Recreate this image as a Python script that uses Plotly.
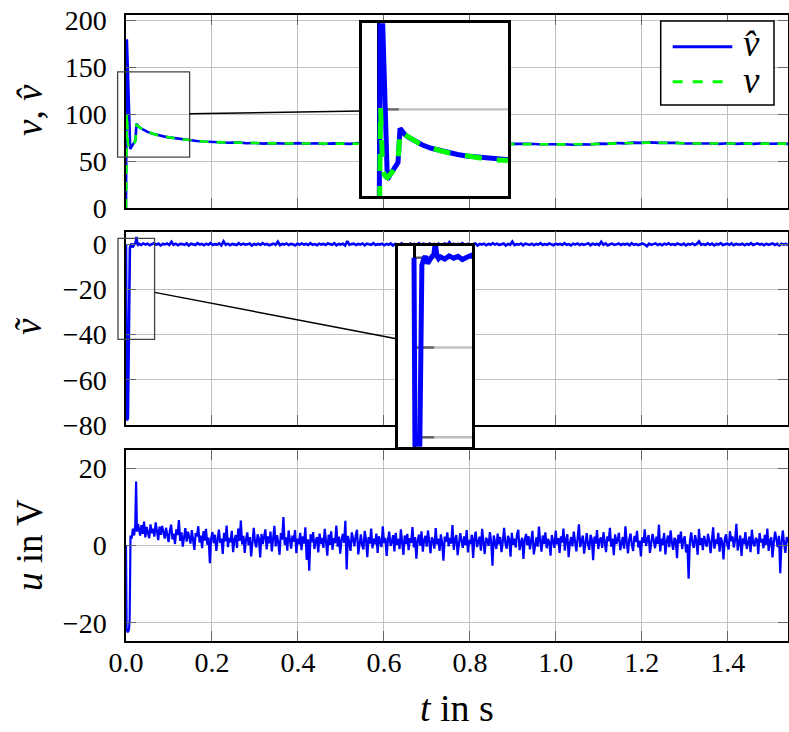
import numpy as np
import plotly.graph_objects as go

# ---------------- data ----------------
# top panel: estimate v_hat and true v
t_top = [0.0, 0.002, 0.0045, 0.007, 0.0098, 0.013, 0.016, 0.019, 0.022, 0.0243,
         0.026, 0.03, 0.035, 0.04, 0.045, 0.05, 0.06, 0.07, 0.08, 0.09,
         0.1, 0.11, 0.12, 0.13, 0.14, 0.15, 0.165, 0.18, 0.2,
         0.22, 0.24, 0.26, 0.28, 0.30, 0.32, 0.34, 0.36, 0.38, 0.40,
         0.42, 0.44, 0.46, 0.48, 0.50, 0.52, 0.54, 0.56, 0.58, 0.60,
         0.62, 0.64, 0.66, 0.68, 0.70, 0.72, 0.74, 0.76, 0.78, 0.80,
         0.82, 0.84, 0.86, 0.88, 0.90, 0.92, 0.94, 0.96, 0.98, 1.00,
         1.02, 1.04, 1.06, 1.08, 1.10, 1.12, 1.14, 1.16, 1.18, 1.20,
         1.22, 1.24, 1.26, 1.28, 1.30, 1.32, 1.34, 1.36, 1.38, 1.40,
         1.42, 1.44, 1.46, 1.48, 1.50, 1.52, 1.54]
v_hat = [0, 180, 145, 110, 63, 65.5, 67.5, 69.5, 72, 90,
         88.6, 86.6, 85.0, 83.6, 82.3, 81.2, 79.5, 78.2, 77.1, 76.2,
         75.4, 74.7, 74.0, 73.4, 72.8, 72.3, 71.6, 71.0, 70.4,
         70.4, 69.6, 70.0, 69.1, 69.4, 68.7, 69.3, 69.0, 68.6, 69.2,
         68.6, 69.1, 68.3, 69.0, 68.8, 68.4, 69.2, 68.5, 68.9, 68.3,
         69.1, 68.6, 69.0, 68.4, 69.0, 68.6, 69.0, 68.2, 68.8, 69.0,
         68.5, 69.0, 68.5, 69.0, 68.4, 68.7, 68.6, 68.0, 68.3, 67.8,
         68.1, 67.5, 68.1, 67.8, 68.7, 68.5, 69.4, 69.0, 69.8, 69.5,
         70.1, 69.5, 69.9, 69.6, 68.9, 69.1, 68.5, 68.9, 68.5, 69.1,
         68.5, 69.0, 68.4, 69.1, 68.6, 68.9, 68.4]
v_true = [0, 101, 68, 65, 64, 65.5, 67.3, 69.3, 72.5, 88.6,
          88.4, 86.6, 85.0, 83.6, 82.3, 81.2, 79.5, 78.2, 77.1, 76.2,
          75.4, 74.7, 74.0, 73.4, 72.8, 72.3, 71.6, 71.0, 70.4,
          70.1, 69.8, 69.6, 69.4, 69.2, 69.1, 69.0, 68.9, 68.9, 68.8,
          68.8, 68.8, 68.7, 68.8, 68.7, 68.7, 68.8, 68.7, 68.7, 68.7,
          68.8, 68.7, 68.6, 68.7, 68.8, 68.8, 68.7, 68.6, 68.7, 68.7,
          68.8, 68.8, 68.7, 68.6, 68.7, 68.6, 68.5, 68.3, 68.1, 67.9,
          67.8, 67.8, 67.9, 68.1, 68.4, 68.8, 69.1, 69.3, 69.5, 69.7,
          69.8, 69.8, 69.7, 69.4, 69.1, 68.9, 68.7, 68.6, 68.7, 68.8,
          68.8, 68.7, 68.7, 68.8, 68.8, 68.7, 68.7]

# middle panel: estimation error
t_err_start = [0.0, 0.002, 0.0045, 0.007, 0.009, 0.011, 0.013, 0.0155, 0.018,
               0.0205, 0.0225, 0.0243, 0.026, 0.028]
err_start = [0, -78, -77, -40, -1.6, -0.3, 0.3, -1.3, -0.2, 0.3, 0.6, 3.3, 0.5, -0.2]
err_noise = [
    0.2, -0.3, 0.4, -0.1, 0.3, -0.4, 0.1, 0.5, -0.2, 0.3, -0.5, 0.2, 0.0, 0.4, -0.3, 1.1, -0.2, 0.3, -0.4, 0.2,
    0.1, -0.2, 0.4, -0.5, 0.3, 0.0, -0.3, 0.5, -0.1, 0.2, -0.4, 0.3, -0.2, 0.6, -0.3, 0.1, -0.1, 0.4, -0.5, 1.3,
    -0.2, 0.3, -0.4, 0.2, 0.1, -0.3, 0.5, -0.2, 0.3, -0.1, 0.0, 0.4, -0.5, 0.2, -0.2, 0.3, -0.3, 0.5, -0.1, 0.2,
    -0.4, 0.1, 0.3, -0.2, 1.2, -0.4, 0.2, -0.1, 0.4, -0.3, 0.2, 0.0, -0.5, 0.3, -0.2, 0.4, -0.1, 0.2, -0.3, 0.5,
    -0.2, 0.1, -0.4, 0.3, -0.1, 0.2, -0.3, 0.4, 0.0, -0.2, 0.5, -0.4, 0.2, -0.1, 0.3, -0.5, 1.4, -0.2, 0.1, 0.3,
    -0.3, 0.2, -0.1, 0.4, -0.4, 0.3, 0.0, -0.2, 0.5, -0.3, 0.1, -0.1, 0.3, -0.4, 0.2, -0.2, 0.4, -0.5, 0.2, 0.1,
    -0.3, 0.4, -0.2, 0.1, -0.9, 0.3, -0.1, 0.2, -0.4, 0.5, -0.2, 0.3, 0.0, -0.3, 0.4, -0.1, 0.2, -0.5, 0.3, -0.2,
    0.1, 0.4, -0.3, 1.0, -0.2, 0.3, -0.4, 0.2, -0.1, 0.5, -0.3, 0.1, 0.3, -0.2, 0.0, 0.4, -0.5, 0.2, -0.1, 0.3,
    -0.4, 0.2, -0.2, 0.5, -0.1, 0.3, -0.3, 0.1, 0.4, -0.5, 0.2, -0.2, 1.2, -0.3, 0.1, -0.1, 0.4, -0.4, 0.3, 0.0,
    -0.2, 0.3, -0.4, 0.2, -0.1, 0.5, -0.3, 0.1, -0.2, 0.4, 0.0, -0.4, 0.3, -0.1, 0.2, -0.3, 0.5, -0.2, 0.1, -0.5,
    0.3, -0.1, 0.4, -0.3, 0.2, -0.2, 0.1, 0.5, -0.4, 0.3, -0.1, 0.2, -0.3, 1.1, -0.2, 0.4, -0.5, 0.1, 0.3, -0.2,
    0.0, 0.4, -0.3, 0.2, -0.1, 0.3, -0.4, 0.5, -0.2, 0.1, -0.3, 0.2, 0.4, -0.1, -0.8, 0.3, -0.2, 0.1, 0.4, -0.3,
    0.2, -0.4, 0.3, -0.1, 0.5, -0.2, 0.1, -0.3, 0.4, 0.0, -0.2, 0.3, -0.5, 0.2, -0.1, 0.4, -0.3, 0.2, 1.3, -0.2,
    0.1, -0.3, 0.4, -0.2, 0.3, -0.5, 0.2, -0.1, 0.5, -0.3, 0.1, 0.3, -0.2, 0.4, -0.4, 0.2, 0.0, -0.1, 0.3, -0.4,
    0.2, -0.2, 0.5, -0.3, 0.1, 0.4, -0.1, 0.2, -0.4, 0.3, -0.2, 0.1, 0.4, -0.3, 0.2, -0.5, 0.3, -0.1, 0.2, -0.3]

# bottom panel: input voltage
t_u_start = [0.0, 0.0015, 0.004, 0.007, 0.0085, 0.0105, 0.013, 0.016, 0.019,
             0.0215, 0.0235, 0.0255, 0.028]
u_start = [0, -21.5, -22.5, -21.8, -19, 2.6, 1.8, 4.4, 2.6, 5.2, 16.6, 3.6, 5.6]
u_noise = [
    4.1, 2.6, 5.3, 3.0, 6.2, 2.1, 4.8, 3.6, 1.9, 5.5, 3.2, 4.4, 2.3, 6.0, 3.8, 1.4, 4.9, 2.8, 5.1, 3.3,
    1.8, 4.6, 2.5, 0.9, 3.9, 5.4, 1.6, 3.1, 0.4, 4.2, 2.7, 6.6, 1.2, 3.4, -0.3, 2.9, 4.5, 1.0, 3.6, 2.2,
    0.5, 4.0, 1.7, -1.1, 3.2, 2.4, 5.0, 0.8, 2.6, -0.7, 3.7, 1.3, 4.3, 0.2, 2.1, -4.6, 1.9, 3.5, 0.6, 2.8,
    -1.4, 2.3, 4.1, 0.7, 1.8, -2.2, 3.3, 1.1, 5.2, -0.4, 2.0, 0.9, 3.8, -1.7, 1.5, 2.7, -0.6, 4.4, 1.2, 6.5,
    0.3, 2.5, -1.9, 1.6, 3.4, 0.1, 2.2, -2.8, 1.4, 4.6, 0.8, -0.5, 2.9, 1.7, -3.1, 3.0, 0.4, 1.9, 4.2, -1.0,
    2.4, 0.6, 3.6, -1.5, 1.2, 5.1, -0.2, 2.7, 0.9, -2.4, 3.2, 1.5, 7.4, 0.2, 2.1, -1.3, 3.9, 0.7, -0.8, 2.6,
    1.0, 4.0, -2.0, 1.8, 0.3, 3.3, -1.2, 2.4, 0.5, 4.7, -3.7, 1.6, -6.5, 2.9, 0.8, 3.5, -0.9, 1.3, 2.2, -1.8,
    3.1, 0.4, 2.0, -0.6, 4.3, 1.1, -2.6, 2.8, 0.2, 3.7, -1.1, 1.9, 0.6, 5.2, -0.3, 2.3, -2.1, 1.4, 3.0, 0.7,
    6.4, -6.2, 2.5, 0.9, -1.4, 3.4, 1.2, -0.2, 2.6, 4.1, -2.3, 1.0, 2.9, 0.1, -1.0, 3.8, 1.6, -3.0, 2.2, 0.5,
    4.4, -0.7, 1.8, 0.3, 3.1, -1.9, 2.4, 1.0, -0.4, 5.0, 0.6, 2.0, -2.7, 1.5, 3.6, -0.1, 0.9, 2.7, -1.5, 3.3,
    0.2, 1.7, -0.9, 4.2, 1.1, -2.4, 2.6, 0.4, 3.0, -1.2, 1.9, 0.7, 4.8, -0.5, 2.2, -3.4, 1.3, 2.8, 0.0, 3.7,
    -1.6, 1.4, 2.5, -0.3, 3.9, 0.8, -2.0, 2.1, 1.5, -0.8, 4.5, 0.3, 1.8, -1.4, 2.9, 0.6, -3.9, 2.3, 1.0, 3.4,
    -0.2, 2.0, 0.5, 5.3, -1.1, 1.6, 2.7, -2.5, 0.9, 3.2, 1.2, -0.6, 2.4, 0.1, 4.0, -1.8, 1.5, 0.4, 2.8, -3.2,
    1.9, 3.6, -0.4, 1.1, 2.3, -1.3, 4.3, 0.7, -2.2, 2.0, 1.4, -0.1, 3.5, 0.9, -5.2, 2.6, 1.2, -0.9, 3.1, 0.3,
    2.2, -1.7, 1.0, 4.6, 0.5, -0.8, 2.5, 1.6, -2.9, 3.3, 0.2, 1.8, -0.5, 2.9, 4.1, -1.2, 0.8, 2.0, -3.5, 1.5,
    3.0, 0.1, 2.4, -1.0, 1.3, 3.8, -2.3, 0.6, 2.1, -0.3, 4.9, 1.1, -1.6, 2.6, 0.4, 3.4, -0.7, 1.7, 0.9, -2.6,
    2.7, 1.2, -0.6, 3.9, 0.3, 1.9, -1.9, 2.4, 0.8, 4.4, -1.3, 1.5, 2.9, -3.0, 0.7, 2.2, -0.2, 3.6, 1.0, -1.5,
    2.0, 5.5, -0.4, 1.3, 2.6, -2.1, 0.9, 3.2, 0.2, -1.1, 2.8, 1.6, -3.8, 2.3, 0.5, 4.0, -0.9, 1.4, 2.1, -0.6,
    3.5, 0.8, -1.7, 2.4, 1.1, 4.6, -0.3, 1.8, -2.5, 2.9, 0.4, 1.5, 3.3, -1.2, 0.6, 2.2, -0.8, 5.0, 1.0, -2.0,
    1.7, 3.1, 0.2, -1.4, 2.5, 0.9, 3.8, -0.5, 1.3, -2.8, 2.1, 0.7, 4.2, -0.1, 1.6, 2.7, -1.9, 0.5, 3.0, 1.2,
    -0.7, 2.3, 0.4, 5.4, -1.5, 1.8, 0.1, 3.2, -2.3, 1.1, 2.6, -0.4, 3.9, 0.8, -1.1, 2.0, 1.4, -3.3, 2.8, 0.6,
    3.6, -0.9, 1.5, 2.4, -1.8, 0.3, -8.6, 1.2, 3.4, 0.5, -0.6, 2.7, 1.0, -2.4, 4.3, 0.2, 1.9, -1.2, 2.5, 0.8,
    -0.3, 3.0, 1.3, -2.0, 2.2, 4.7, -0.8, 1.6, 0.4, 3.3, -1.6, 2.1, 0.9, -3.6, 1.7, 2.9, 0.1, -1.0, 3.7, 1.1,
    2.4, -0.5, 1.4, 5.6, -1.3, 0.7, 2.6, -2.7, 1.9, 0.3, 3.5, -0.9, 1.2, 2.3, -1.7, 4.1, 0.6, -0.2, 2.0, 1.5,
    -2.2, 3.2, 0.8, 1.7, -0.7, 2.8, 0.2, 4.4, -1.4, 1.3, 2.1, -3.1, 0.9, 3.6, 1.6, -0.4, 2.5, -7.2, 1.0, 3.9,
    0.4, -1.9, 2.2, 0.7]

x_ticks = [0.0, 0.2, 0.4, 0.6, 0.8, 1.0, 1.2, 1.4]
top_ticks = [0, 50, 100, 150, 200]
mid_ticks = [0, -20, -40, -60, -80]
bot_ticks = [-20, 0, 20]

# sample grids for the noisy steady-state parts
t_err = list(t_err_start) + list(np.linspace(0.03, 1.54, len(err_noise)))
err = list(err_start) + list(err_noise)
t_u = list(t_u_start) + list(np.linspace(0.03, 1.54, len(u_noise)))
u = list(u_start) + list(u_noise)

# ---------------- layout geometry ----------------
W, H = 789, 732
ML, MR = 126, 1
PW = W - ML - MR


def pxx(px):
    return (px - ML) / PW


def pxy(py):
    return 1 - py / H


FONT = "Liberation Serif"
BLUE = "#0000ff"
GREEN = "#00ff00"
GRID = "#c0c0c0"
TICKC = "#666666"

X_RANGE = [0, 1.54]
TOP_DOM = [pxy(208), pxy(15.3)]
MID_DOM = [pxy(425), pxy(231.7)]
BOT_DOM = [pxy(640.5), pxy(450)]
TOP_YR = [0, 205.7]
MID_YR = [-80, 5.6]
BOT_YR = [-24.6, 24.75]

# spy regions (data units) and their magnified insets (pixel boxes)
SPY_TOP_X = [-0.0195, 0.148]
SPY_TOP_Y = [54.3, 145.4]
INSET_TOP_PX = [361.7, 508.3, 23.3, 196.0]
SPY_MID_X = [-0.0186, 0.0665]
SPY_MID_Y = [-42.1, 2.67]
INSET_MID_PX = [397.7, 472.3, 245.7, 446.7]

fig = go.Figure()

# main traces
fig.add_trace(go.Scatter(x=t_top, y=v_hat, mode="lines", line=dict(color=BLUE, width=2.6),
                         xaxis="x", yaxis="y", showlegend=False))
fig.add_trace(go.Scatter(x=t_top, y=v_true, mode="lines",
                         line=dict(color=GREEN, width=2.6, dash="9px,8px"),
                         xaxis="x", yaxis="y", showlegend=False))
fig.add_trace(go.Scatter(x=t_err, y=err, mode="lines", line=dict(color=BLUE, width=2.6),
                         xaxis="x2", yaxis="y2", showlegend=False))
fig.add_trace(go.Scatter(x=t_u, y=u, mode="lines", line=dict(color=BLUE, width=2.2),
                         xaxis="x3", yaxis="y3", showlegend=False))
# inset traces (magnified copies)
fig.add_trace(go.Scatter(x=t_top, y=v_hat, mode="lines", line=dict(color=BLUE, width=5),
                         xaxis="x4", yaxis="y4", showlegend=False))
fig.add_trace(go.Scatter(x=t_top, y=v_true, mode="lines",
                         line=dict(color=GREEN, width=5, dash="17px,15px"),
                         xaxis="x4", yaxis="y4", showlegend=False))
fig.add_trace(go.Scatter(x=t_err, y=err, mode="lines", line=dict(color=BLUE, width=5),
                         xaxis="x5", yaxis="y5", showlegend=False))

tickfont = dict(family=FONT, size=28, color="black")
main_x = dict(range=X_RANGE, domain=[0, 1], tickvals=x_ticks, showline=True, linecolor="black",
              linewidth=1.5, mirror="ticks", ticks="inside", ticklen=10, tickcolor=TICKC,
              tickwidth=1.2, showgrid=True, gridcolor=GRID, gridwidth=1.2, zeroline=False,
              tickfont=tickfont, automargin=False)
main_y = dict(showline=True, linecolor="black", linewidth=1.5, mirror="ticks", ticks="inside",
              ticklen=10, tickcolor=TICKC, tickwidth=1.2, showgrid=True, gridcolor=GRID,
              gridwidth=1.2, zeroline=False, tickfont=tickfont, automargin=False,
              ticklabelstandoff=12)

inset_common = dict(showline=True, mirror=True, linecolor="black", linewidth=3,
                    showgrid=False, showticklabels=False, ticks="", automargin=False)

layout = dict(
    width=W, height=H, template="none",
    font=dict(family=FONT, color="black"),
    paper_bgcolor="white", plot_bgcolor="white",
    margin=dict(l=ML, r=MR, t=0, b=0),
    showlegend=False,
    xaxis=dict(main_x, anchor="y", showticklabels=False),
    yaxis=dict(main_y, anchor="x", domain=TOP_DOM, range=TOP_YR, tickvals=top_ticks),
    xaxis2=dict(main_x, anchor="y2", showticklabels=False),
    yaxis2=dict(main_y, anchor="x2", domain=MID_DOM, range=MID_YR, tickvals=mid_ticks,
                ticktext=["0", "\u221220", "\u221240", "\u221260", "\u221280"]),
    xaxis3=dict(main_x, anchor="y3", showticklabels=True,
                ticktext=["%.1f" % v for v in x_ticks], ticklabelstandoff=-4),
    yaxis3=dict(main_y, anchor="x3", domain=BOT_DOM, range=BOT_YR, tickvals=bot_ticks,
                ticktext=["\u221220", "0", "20"]),
    xaxis4=dict(inset_common, anchor="y4", range=SPY_TOP_X,
                domain=[pxx(INSET_TOP_PX[0]), pxx(INSET_TOP_PX[1])],
                zeroline=True, zerolinecolor="black", zerolinewidth=3),
    yaxis4=dict(inset_common, anchor="x4", range=SPY_TOP_Y, zeroline=False,
                domain=[pxy(INSET_TOP_PX[3]), pxy(INSET_TOP_PX[2])]),
    xaxis5=dict(inset_common, anchor="y5", range=SPY_MID_X,
                domain=[pxx(INSET_MID_PX[0]), pxx(INSET_MID_PX[1])],
                zeroline=True, zerolinecolor="black", zerolinewidth=3),
    yaxis5=dict(inset_common, anchor="x5", range=SPY_MID_Y, zeroline=False,
                domain=[pxy(INSET_MID_PX[3]), pxy(INSET_MID_PX[2])]),
)
fig.update_layout(**layout)

shapes = []


# magnified grid lines inside the insets (start at t = 0, i.e. at the axis line)
def inset_grid(xref, yref, xr, vals, tick_len):
    for val in vals:
        shapes.append(dict(type="line", xref=xref, yref=yref, x0=0, x1=xr[1], y0=val, y1=val,
                           line=dict(color=GRID, width=2.4), layer="below"))
        shapes.append(dict(type="line", xref=xref, yref=yref, x0=0, x1=tick_len, y0=val, y1=val,
                           line=dict(color=TICKC, width=2.4), layer="below"))


inset_grid("x4", "y4", SPY_TOP_X, [v for v in top_ticks if SPY_TOP_Y[0] < v < SPY_TOP_Y[1]], 0.023)
inset_grid("x5", "y5", SPY_MID_X, [v for v in mid_ticks if SPY_MID_Y[0] < v < SPY_MID_Y[1]], 0.023)


def to_paper(x, y, yr, ydom):
    px = (x - X_RANGE[0]) / (X_RANGE[1] - X_RANGE[0])
    py = ydom[0] + (y - yr[0]) / (yr[1] - yr[0]) * (ydom[1] - ydom[0])
    return px, py


def spy(sx, sy, yr, ydom, inset_px):
    x0, y0 = to_paper(sx[0], sy[0], yr, ydom)
    x1, y1 = to_paper(sx[1], sy[1], yr, ydom)
    shapes.append(dict(type="rect", xref="paper", yref="paper", x0=x0, x1=x1, y0=y0, y1=y1,
                       line=dict(color="#444444", width=1.3), fillcolor="rgba(0,0,0,0)",
                       layer="above"))
    ix0, ix1 = pxx(inset_px[0]), pxx(inset_px[1])
    iy0, iy1 = pxy(inset_px[3]), pxy(inset_px[2])
    c1 = np.array([(x0 + x1) / 2, (y0 + y1) / 2])
    c2 = np.array([(ix0 + ix1) / 2, (iy0 + iy1) / 2])
    d = c2 - c1
    h1 = np.array([(x1 - x0) / 2, (y1 - y0) / 2])
    h2 = np.array([(ix1 - ix0) / 2, (iy1 - iy0) / 2])
    s1 = min(h1[i] / abs(d[i]) for i in range(2) if d[i] != 0)
    s2 = min(h2[i] / abs(d[i]) for i in range(2) if d[i] != 0)
    p1 = c1 + s1 * d
    p2 = c2 - s2 * d
    shapes.append(dict(type="line", xref="paper", yref="paper", x0=p1[0], y0=p1[1],
                       x1=p2[0], y1=p2[1], line=dict(color="black", width=1.5), layer="above"))


spy(SPY_TOP_X, SPY_TOP_Y, TOP_YR, TOP_DOM, INSET_TOP_PX)
spy(SPY_MID_X, SPY_MID_Y, MID_YR, MID_DOM, INSET_MID_PX)

# legend (drawn manually to match the long line samples)
shapes.append(dict(type="rect", xref="paper", yref="paper", x0=pxx(660.7), x1=pxx(774),
                   y0=pxy(105), y1=pxy(21), line=dict(color="black", width=1.5),
                   fillcolor="white", layer="above"))
shapes.append(dict(type="line", xref="paper", yref="paper", x0=pxx(672.7), x1=pxx(732.3),
                   y0=pxy(46.7), y1=pxy(46.7), line=dict(color=BLUE, width=3), layer="above"))
shapes.append(dict(type="line", xref="paper", yref="paper", x0=pxx(672.7), x1=pxx(732.3),
                   y0=pxy(81.7), y1=pxy(81.7), line=dict(color=GREEN, width=3, dash="10px,10px"),
                   layer="above"))
fig.update_layout(shapes=shapes)

tf = dict(family=FONT, size=37, color="black")
annotations = [
    dict(text="<i>v\u0302</i>", x=pxx(741), y=pxy(44), xref="paper", yref="paper",
         xanchor="left", yanchor="middle", showarrow=False, font=tf),
    dict(text="<i>v</i>", x=pxx(741), y=pxy(80), xref="paper", yref="paper",
         xanchor="left", yanchor="middle", showarrow=False, font=tf),
    dict(text="<i>t</i> in s", x=pxx(456.7), y=pxy(708), xref="paper", yref="paper",
         xanchor="center", yanchor="middle", showarrow=False, font=dict(tf, size=38)),
    dict(text="<i>v</i>, <i>v\u0302</i>", x=pxx(29), y=pxy(110), xref="paper", yref="paper",
         xanchor="center", yanchor="middle", showarrow=False, font=tf, textangle=-90),
    dict(text="<i>v\u0303</i>", x=pxx(29), y=pxy(326), xref="paper", yref="paper",
         xanchor="center", yanchor="middle", showarrow=False, font=tf, textangle=-90),
    dict(text="<i>u</i> in V", x=pxx(29), y=pxy(545), xref="paper", yref="paper",
         xanchor="center", yanchor="middle", showarrow=False, font=tf, textangle=-90),
]
fig.update_layout(annotations=annotations)

# remove the default page margin so the figure sits at the window's top-left corner
fig.write_html("out.html", config={"displayModeBar": False},
               post_script="document.body.style.margin='0px';")
